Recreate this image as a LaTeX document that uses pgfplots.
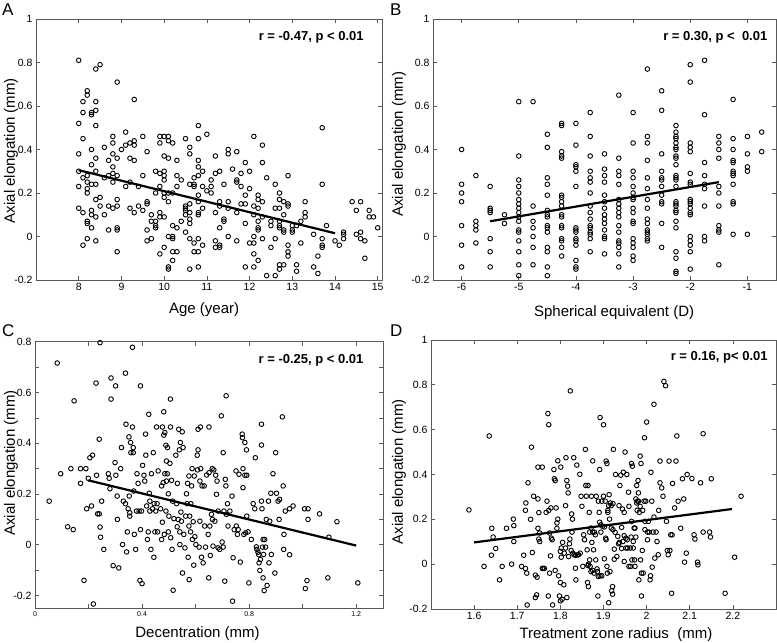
\documentclass[border=0pt]{standalone}
\usepackage{fontspec}
\setmainfont{Liberation Sans}
\usepackage{pgfplots}
\pgfplotsset{compat=1.18}
\pgfplotsset{
  panel/.style={
    scale only axis,
    axis line style={black!65, line width=0.8pt},
    tick style={black!65, line width=0.7pt},
    tick align=inside,
    tick pos=both,
    major tick length=4pt,
    minor tick length=4pt,
    tick label style={font=\fontsize{10.5}{12}\selectfont},
    label style={font=\fontsize{15}{18}\selectfont},
    ylabel={Axial elongation (mm)},
  },
  pts/.style={only marks, mark=o, mark size=2.3pt, mark options={line width=0.9pt, black}},
  fit/.style={black, line width=2.2pt, no marks},
}
\tikzset{ann/.style={anchor=east, font=\bfseries\fontsize{13}{15}\selectfont}}
\begin{document}
\begin{tikzpicture}
\useasboundingbox (0,0) rectangle (777pt,643pt);
% ---------------- A ----------------
\begin{axis}[panel, at={(36pt,363pt)}, anchor=south west, width=346pt, height=261pt,
  xmin=7, xmax=15.1, ymin=-0.2, ymax=1,
  xtick={8,9,10,11,12,13,14,15}, xticklabels={8,9,10,11,12,13,14,15},
  ytick={-0.2,0,0.2,0.4,0.6,0.8,1},
  yticklabels={-0.2,0,0.2,0.4,0.6,0.8,1},
  xlabel={Age (year)},
  xlabel style={at={(axis description cs:0.486,0)}, anchor=base, yshift=-34pt},
  ylabel style={at={(axis description cs:0,0.496)}, anchor=center, yshift=25pt}]
\addplot[pts] table[row sep=\\] {x y\\
8.0 0.81\\ 8.0 0.52\\ 8.0 0.38\\ 8.0 0.30\\ 8.0 0.23\\ 8.0 0.13\\
8.1 0.62\\ 8.1 0.57\\ 8.1 0.45\\ 8.1 0.27\\ 8.1 0.11\\ 8.1 -0.04\\
8.2 0.67\\ 8.2 0.65\\ 8.2 0.28\\ 8.2 0.25\\ 8.2 0.22\\ 8.2 0.20\\ 8.2 0.07\\ 8.2 0.06\\ 8.2 -0.01\\
8.3 0.57\\ 8.3 0.56\\ 8.3 0.40\\ 8.3 0.33\\ 8.3 0.24\\ 8.3 0.12\\ 8.3 0.10\\ 8.3 0.04\\
8.4 0.77\\ 8.4 0.62\\ 8.4 0.58\\ 8.4 0.51\\ 8.4 0.36\\ 8.4 0.30\\ 8.4 0.24\\ 8.4 0.17\\ 8.4 0.09\\ 8.4 -0.02\\
8.5 0.79\\ 8.5 0.18\\ 8.5 0.14\\
8.6 0.41\\ 8.6 0.27\\ 8.6 0.10\\
8.7 0.35\\ 8.7 0.28\\ 8.7 0.14\\ 8.7 0.03\\
8.8 0.46\\ 8.8 0.43\\ 8.8 0.38\\ 8.8 0.32\\ 8.8 0.29\\ 8.8 0.25\\ 8.8 0.13\\
8.9 0.71\\ 8.9 0.36\\ 8.9 0.28\\ 8.9 0.17\\ 8.9 0.14\\ 8.9 0.04\\ 8.9 0.03\\ 8.9 -0.07\\
9.0 0.40\\
9.1 0.48\\ 9.1 0.42\\ 9.1 0.23\\
9.2 0.43\\ 9.2 0.36\\ 9.2 0.25\\ 9.2 0.13\\
9.3 0.63\\ 9.3 0.44\\ 9.3 0.42\\ 9.3 0.35\\ 9.3 0.11\\
9.4 0.23\\ 9.4 0.14\\
9.5 0.46\\ 9.5 0.28\\ 9.5 0.12\\
9.6 0.39\\ 9.6 0.16\\ 9.6 0.15\\ 9.6 0.03\\ 9.6 -0.02\\
9.7 0.10\\ 9.7 0.07\\ 9.7 -0.01\\
9.8 0.30\\ 9.8 0.20\\ 9.8 0.07\\ 9.8 0.05\\ 9.8 0.04\\
9.9 0.46\\ 9.9 0.43\\ 9.9 0.29\\ 9.9 0.23\\ 9.9 0.11\\ 9.9 0.09\\ 9.9 -0.08\\
10.0 0.46\\ 10.0 0.37\\ 10.0 0.30\\ 10.0 0.28\\ 10.0 0.26\\ 10.0 0.20\\ 10.0 0.18\\ 10.0 0.09\\ 10.0 -0.05\\
10.1 0.46\\ 10.1 0.44\\ 10.1 0.36\\ 10.1 0.20\\ 10.1 0.16\\ 10.1 0.0\\ 10.1 -0.14\\ 10.1 -0.15\\
10.2 0.43\\ 10.2 0.20\\ 10.2 0.05\\ 10.2 0.0\\ 10.2 -0.01\\ 10.2 -0.07\\ 10.2 -0.11\\
10.3 0.35\\ 10.3 0.28\\ 10.3 0.23\\ 10.3 0.04\\ 10.3 -0.07\\
10.4 0.26\\ 10.4 0.07\\
10.5 0.45\\ 10.5 0.14\\ 10.5 0.13\\ 10.5 0.12\\ 10.5 0.10\\ 10.5 0.02\\
10.6 0.41\\ 10.6 0.38\\ 10.6 0.24\\ 10.6 0.15\\ 10.6 0.11\\ 10.6 0.08\\ 10.6 0.06\\ 10.6 -0.01\\ 10.6 -0.15\\
10.7 0.27\\ 10.7 0.24\\ 10.7 0.23\\ 10.7 -0.03\\ 10.7 -0.07\\
10.8 0.51\\ 10.8 0.45\\ 10.8 0.35\\ 10.8 0.32\\ 10.8 0.28\\ 10.8 0.19\\ 10.8 0.16\\ 10.8 0.11\\ 10.8 0.10\\ 10.8 -0.01\\ 10.8 -0.07\\ 10.8 -0.14\\
10.9 0.30\\ 10.9 0.23\\ 10.9 0.13\\ 10.9 -0.04\\
11.0 0.47\\ 11.0 0.21\\
11.1 0.26\\ 11.1 0.23\\ 11.1 0.20\\
11.2 0.37\\ 11.2 0.29\\ 11.2 0.11\\ 11.2 -0.02\\ 11.2 -0.05\\
11.3 0.30\\ 11.3 0.16\\ 11.3 0.14\\ 11.3 0.04\\ 11.3 -0.04\\ 11.3 -0.05\\
11.4 0.24\\ 11.4 0.08\\ 11.4 0.07\\
11.5 0.40\\ 11.5 0.38\\ 11.5 0.16\\ 11.5 0.13\\ 11.5 0.0\\
11.6 0.31\\
11.7 0.39\\ 11.7 0.26\\ 11.7 0.25\\ 11.7 0.11\\ 11.7 -0.02\\
11.8 0.29\\ 11.8 0.23\\ 11.8 0.15\\
11.9 0.34\\ 11.9 0.19\\ 11.9 0.15\\ 11.9 0.06\\ 11.9 -0.14\\
12.0 0.30\\ 12.0 0.22\\ 12.0 -0.03\\
12.1 0.46\\ 12.1 0.14\\ 12.1 0.10\\ 12.1 0.0\\ 12.1 -0.03\\ 12.1 -0.08\\ 12.1 -0.14\\
12.2 0.19\\ 12.2 0.17\\ 12.2 0.13\\ 12.2 0.07\\ 12.2 0.04\\ 12.2 0.03\\ 12.2 -0.11\\
12.3 0.42\\ 12.3 0.34\\ 12.3 0.16\\ 12.3 0.09\\ 12.3 -0.01\\
12.4 0.27\\ 12.4 -0.18\\
12.5 0.07\\ 12.5 0.05\\ 12.5 -0.05\\
12.6 0.24\\ 12.6 0.13\\ 12.6 -0.01\\ 12.6 -0.18\\
12.7 0.20\\ 12.7 0.17\\ 12.7 0.13\\ 12.7 0.07\\ 12.7 0.05\\ 12.7 0.04\\ 12.7 -0.13\\ 12.7 -0.15\\
12.8 0.16\\ 12.8 0.10\\ 12.8 0.03\\ 12.8 0.02\\ 12.8 -0.13\\
12.9 0.28\\ 12.9 0.15\\ 12.9 0.14\\ 12.9 -0.04\\ 12.9 -0.07\\ 12.9 -0.09\\
13.0 0.05\\ 13.0 0.03\\ 13.0 0.02\\
13.1 0.05\\ 13.1 -0.13\\ 13.1 -0.16\\
13.2 0.07\\ 13.2 -0.03\\
13.3 0.16\\ 13.3 0.11\\ 13.3 0.09\\
13.5 0.01\\ 13.5 -0.14\\
13.6 -0.09\\ 13.6 -0.17\\
13.7 0.50\\ 13.7 0.24\\ 13.7 -0.01\\ 13.7 -0.04\\ 13.7 -0.05\\
13.8 0.05\\
14.0 -0.02\\ 14.1 -0.04\\
14.2 0.02\\ 14.2 0.01\\ 14.2 -0.01\\
14.4 0.16\\ 14.5 0.12\\ 14.5 0.01\\
14.6 0.16\\ 14.6 0.02\\ 14.6 -0.01\\
14.7 -0.02\\ 14.7 -0.10\\
14.8 0.12\\ 14.8 0.09\\ 14.9 0.09\\ 15.0 0.04\\
};
\addplot[fit] coordinates {(8,0.305) (14,0.015)};
\node[ann] at (rel axis cs:0.957,0.931) {r = -0.47, p < 0.01};
\end{axis}
% ---------------- B ----------------
\begin{axis}[panel, at={(433pt,363pt)}, anchor=south west, width=343pt, height=261pt,
  xmin=-6.5, xmax=-0.5, ymin=-0.2, ymax=1,
  xtick={-6,-5,-4,-3,-2,-1}, xticklabels={-6,-5,-4,-3,-2,-1},
  ytick={-0.2,0,0.2,0.4,0.6,0.8,1},
  yticklabels={-0.2,0,0.2,0.4,0.6,0.8,1},
  xlabel={Spherical equivalent (D)},
  xlabel style={at={(axis description cs:0.528,0)}, anchor=base, yshift=-37pt},
  ylabel style={at={(axis description cs:0,0.521)}, anchor=center, yshift=34pt}]
\addplot[pts] table[row sep=\\] {x y\\
-6 0.40\\ -6 0.24\\ -6 0.20\\ -6 0.16\\ -6 0.05\\ -6 -0.04\\ -6 -0.14\\
-5.75 0.28\\ -5.75 0.07\\ -5.75 0.05\\ -5.75 0.03\\ -5.75 -0.03\\
-5.5 0.23\\ -5.5 0.13\\ -5.5 0.12\\ -5.5 0.11\\ -5.5 -0.01\\ -5.5 -0.07\\ -5.5 -0.14\\
-5.25 0.10\\ -5.25 0.06\\
-5 0.62\\ -5 0.37\\ -5 0.26\\ -5 0.23\\ -5 0.20\\ -5 0.17\\ -5 0.15\\ -5 0.13\\ -5 0.11\\ -5 0.09\\ -5 0.07\\ -5 0.03\\ -5 0.02\\ -5 -0.02\\ -5 -0.07\\ -5 -0.13\\ -5 -0.18\\
-4.75 0.62\\ -4.75 0.14\\ -4.75 0.07\\ -4.75 0.04\\ -4.75 0.0\\ -4.75 -0.05\\ -4.75 -0.13\\
-4.5 0.47\\ -4.5 0.41\\ -4.5 0.27\\ -4.5 0.24\\ -4.5 0.19\\ -4.5 0.12\\ -4.5 0.10\\ -4.5 0.09\\ -4.5 0.05\\ -4.5 0.04\\ -4.5 0.02\\ -4.5 -0.05\\ -4.5 -0.07\\ -4.5 -0.14\\ -4.5 -0.18\\
-4.25 0.52\\ -4.25 0.51\\ -4.25 0.39\\ -4.25 0.37\\ -4.25 0.36\\ -4.25 0.19\\ -4.25 0.18\\ -4.25 0.16\\ -4.25 0.14\\ -4.25 0.10\\ -4.25 0.09\\ -4.25 0.05\\ -4.25 0.04\\ -4.25 -0.01\\ -4.25 -0.02\\ -4.25 -0.05\\ -4.25 -0.09\\
-4 0.52\\ -4 0.42\\ -4 0.33\\ -4 0.32\\ -4 0.30\\ -4 0.23\\ -4 0.04\\ -4 0.03\\ -4 0.02\\ -4 -0.01\\ -4 -0.02\\ -4 -0.04\\ -4 -0.11\\ -4 -0.14\\ -4 -0.15\\
-3.75 0.57\\ -3.75 0.46\\ -3.75 0.37\\ -3.75 0.30\\ -3.75 0.27\\ -3.75 0.25\\ -3.75 0.20\\ -3.75 0.14\\ -3.75 0.11\\ -3.75 0.08\\ -3.75 0.05\\ -3.75 0.04\\ -3.75 0.02\\ -3.75 0.01\\ -3.75 -0.01\\ -3.75 -0.07\\
-3.5 0.38\\ -3.5 0.31\\ -3.5 0.28\\ -3.5 0.25\\ -3.5 0.19\\ -3.5 0.16\\ -3.5 0.13\\ -3.5 0.10\\ -3.5 0.08\\ -3.5 0.06\\ -3.5 0.03\\ -3.5 0.0\\ -3.5 -0.01\\ -3.5 -0.08\\
-3.25 0.65\\ -3.25 0.36\\ -3.25 0.30\\ -3.25 0.28\\ -3.25 0.24\\ -3.25 0.17\\ -3.25 0.15\\ -3.25 0.13\\ -3.25 0.11\\ -3.25 0.09\\ -3.25 0.05\\ -3.25 0.02\\ -3.25 -0.02\\ -3.25 -0.03\\ -3.25 -0.05\\ -3.25 -0.08\\ -3.25 -0.14\\
-3 0.57\\ -3 0.43\\ -3 0.30\\ -3 0.27\\ -3 0.23\\ -3 0.20\\ -3 0.18\\ -3 0.17\\ -3 0.13\\ -3 0.11\\ -3 0.07\\ -3 0.06\\ -3 -0.01\\ -3 -0.03\\ -3 -0.05\\ -3 -0.09\\ -3 -0.11\\
-2.75 0.77\\ -2.75 0.46\\ -2.75 0.43\\ -2.75 0.35\\ -2.75 0.27\\ -2.75 0.22\\ -2.75 0.17\\ -2.75 0.13\\ -2.75 0.08\\ -2.75 0.06\\ -2.75 0.03\\ -2.75 0.02\\ -2.75 0.01\\ -2.75 -0.01\\ -2.75 -0.02\\
-2.5 0.67\\ -2.5 0.58\\ -2.5 0.38\\ -2.5 0.30\\ -2.5 0.27\\ -2.5 0.26\\ -2.5 0.23\\ -2.5 0.19\\ -2.5 0.16\\ -2.5 0.15\\ -2.5 0.06\\ -2.5 -0.05\\
-2.25 0.51\\ -2.25 0.48\\ -2.25 0.46\\ -2.25 0.45\\ -2.25 0.43\\ -2.25 0.41\\ -2.25 0.40\\ -2.25 0.37\\ -2.25 0.36\\ -2.25 0.33\\ -2.25 0.28\\ -2.25 0.27\\ -2.25 0.26\\ -2.25 0.23\\ -2.25 0.16\\ -2.25 0.15\\ -2.25 0.14\\ -2.25 0.12\\ -2.25 0.11\\ -2.25 0.07\\ -2.25 0.04\\ -2.25 -0.07\\ -2.25 -0.10\\ -2.25 -0.16\\ -2.25 -0.17\\
-2 0.79\\ -2 0.71\\ -2 0.43\\ -2 0.41\\ -2 0.39\\ -2 0.29\\ -2 0.25\\ -2 0.24\\ -2 0.17\\ -2 0.16\\ -2 0.15\\ -2 0.13\\ -2 0.11\\ -2 0.10\\ -2 0.0\\ -2 -0.02\\ -2 -0.04\\ -2 -0.07\\ -2 -0.15\\
-1.75 0.81\\ -1.75 0.56\\ -1.75 0.34\\ -1.75 0.28\\ -1.75 0.24\\ -1.75 0.22\\ -1.75 0.14\\ -1.75 0.0\\ -1.75 -0.02\\
-1.5 0.46\\ -1.5 0.43\\ -1.5 0.40\\ -1.5 0.36\\ -1.5 0.23\\ -1.5 0.20\\ -1.5 0.14\\ -1.5 0.05\\ -1.5 0.03\\ -1.5 0.02\\ -1.5 -0.13\\
-1.25 0.63\\ -1.25 0.45\\ -1.25 0.40\\ -1.25 0.35\\ -1.25 0.34\\ -1.25 0.30\\ -1.25 0.29\\ -1.25 0.28\\ -1.25 0.24\\ -1.25 0.16\\ -1.25 0.15\\ -1.25 0.01\\
-1 0.46\\ -1 0.38\\ -1 0.32\\ -1 0.30\\ -1 0.01\\
-0.75 0.48\\ -0.75 0.39\\
};
\addplot[fit] coordinates {(-5.5,0.07) (-1.5,0.25)};
\node[ann] at (rel axis cs:0.985,0.931) {r = 0.30, p <\ \ 0.01};
\end{axis}
% ---------------- C ----------------
\begin{axis}[panel, at={(35pt,34.7pt)}, anchor=south west, width=348pt, height=266.6pt,
  xmin=0, xmax=1.3, ymin=-0.25, ymax=0.8,
  xtick={0,0.4,0.8,1.2}, xticklabels={0,0.4,0.8,1.2},
  minor xtick={0.2,0.6,1.0},
  xticklabel style={font=\fontsize{7}{8}\selectfont},
  ytick={-0.2,0,0.2,0.4,0.6,0.8}, yticklabels={-0.2,0,0.2,0.4,0.6,0.8},
  minor ytick={-0.1,0.1,0.3,0.5,0.7},
  xlabel={Decentration (mm)},
  xlabel style={at={(axis description cs:0.467,0)}, anchor=base, yshift=-29pt},
  ylabel style={at={(axis description cs:0,0.545)}, anchor=center, yshift=24pt}]
\addplot[pts] table[row sep=\\] {x y\\
0.053 0.172\\ 0.083 0.716\\ 0.096 0.28\\ 0.122 0.071\\ 0.134 0.30\\ 0.143 0.06\\ 0.146 0.567\\ 0.170 0.242\\ 0.170 0.30\\ 0.183 -0.14\\
0.190 0.30\\ 0.193 0.142\\ 0.199 0.262\\ 0.205 0.343\\ 0.211 0.153\\ 0.215 0.353\\ 0.218 -0.233\\ 0.228 0.637\\ 0.230 0.274\\ 0.234 0.122\\
0.240 0.416\\ 0.240 0.122\\ 0.243 0.796\\ 0.243 0.07\\ 0.245 0.03\\ 0.249 0.172\\ 0.257 -0.018\\ 0.274 0.28\\ 0.277 0.262\\ 0.280 0.221\\
0.284 0.657\\ 0.284 0.574\\ 0.292 -0.082\\ 0.299 0.324\\ 0.301 0.626\\ 0.302 0.274\\ 0.307 0.192\\ 0.308 0.10\\ 0.313 -0.091\\ 0.320 0.30\\
0.323 0.383\\ 0.327 0.001\\ 0.330 0.172\\ 0.338 0.676\\ 0.340 0.475\\ 0.338 0.162\\ 0.342 -0.028\\ 0.345 0.051\\ 0.348 0.142\\ 0.351 0.425\\
0.352 0.192\\ 0.354 0.113\\ 0.354 0.126\\ 0.357 0.403\\ 0.358 0.363\\ 0.364 0.778\\ 0.364 0.464\\ 0.367 0.383\\ 0.367 0.363\\ 0.369 0.212\\
0.371 0.041\\ 0.376 -0.018\\ 0.379 0.133\\ 0.381 0.28\\ 0.385 0.242\\ 0.389 0.133\\ 0.392 -0.14\\ 0.394 0.626\\ 0.394 0.06\\ 0.398 0.133\\
0.400 -0.153\\ 0.402 0.313\\ 0.407 0.274\\ 0.410 0.251\\ 0.413 0.436\\ 0.414 0.353\\ 0.417 0.153\\ 0.420 0.021\\ 0.423 0.051\\ 0.425 0.514\\
0.427 0.203\\ 0.429 0.172\\ 0.429 0.133\\ 0.433 -0.018\\ 0.435 0.28\\ 0.439 0.142\\ 0.442 0.363\\ 0.444 -0.049\\ 0.445 0.162\\ 0.448 0.051\\
0.451 0.133\\ 0.454 0.464\\ 0.456 0.162\\ 0.458 0.051\\ 0.460 0.291\\ 0.469 0.142\\ 0.473 0.232\\ 0.473 0.021\\ 0.476 0.464\\ 0.476 0.089\\
0.479 0.245\\ 0.481 0.524\\ 0.481 0.432\\ 0.483 0.041\\ 0.485 0.442\\ 0.485 0.28\\ 0.489 0.392\\ 0.489 0.133\\ 0.491 0.33\\ 0.491 0.251\\
0.494 0.28\\ 0.495 0.383\\ 0.498 0.051\\ 0.498 0.201\\ 0.500 0.113\\ 0.504 0.321\\ 0.506 0.464\\ 0.506 0.574\\ 0.507 0.028\\ 0.510 0.254\\
0.512 -0.018\\ 0.514 0.172\\ 0.516 -0.179\\ 0.519 0.103\\ 0.526 0.353\\ 0.529 0.162\\ 0.531 0.071\\ 0.532 0.242\\ 0.535 0.100\\ 0.537 0.455\\
0.539 0.374\\ 0.541 0.001\\ 0.541 0.051\\ 0.543 0.403\\ 0.545 0.129\\ 0.547 0.093\\ 0.550 0.445\\ 0.551 -0.111\\ 0.553 0.383\\ 0.556 0.041\\
0.560 -0.012\\ 0.563 0.113\\ 0.566 0.201\\ 0.568 0.162\\ 0.570 0.242\\ 0.572 -0.049\\ 0.575 0.074\\ 0.575 0.271\\ 0.576 -0.137\\ 0.578 0.113\\
0.581 0.051\\ 0.582 0.162\\ 0.585 0.232\\ 0.587 0.30\\ 0.588 0.021\\ 0.591 0.091\\ 0.593 -0.08\\ 0.595 0.271\\ 0.597 0.032\\ 0.601 0.001\\
0.606 0.353\\ 0.607 0.295\\ 0.609 0.455\\ 0.609 0.374\\ 0.613 -0.009\\ 0.616 0.093\\ 0.616 0.251\\ 0.618 0.464\\ 0.619 0.30\\ 0.622 -0.049\\
0.624 0.232\\ 0.628 -0.071\\ 0.632 0.232\\ 0.634 0.074\\ 0.637 -0.009\\ 0.641 0.275\\ 0.647 0.041\\ 0.649 -0.13\\ 0.650 0.464\\ 0.650 0.284\\
0.653 0.074\\ 0.655 -0.042\\ 0.659 0.12\\ 0.662 0.30\\ 0.663 0.10\\ 0.665 -0.005\\ 0.668 0.295\\ 0.672 0.093\\ 0.675 0.274\\ 0.678 0.199\\
0.680 0.251\\ 0.684 0.133\\ 0.684 -0.012\\ 0.690 -0.018\\ 0.696 0.508\\ 0.699 0.011\\ 0.703 0.363\\ 0.703 -0.009\\ 0.706 0.133\\ 0.709 -0.143\\
0.711 0.258\\ 0.713 0.232\\ 0.714 0.587\\ 0.715 0.12\\ 0.719 0.162\\ 0.721 0.074\\ 0.728 0.133\\ 0.736 0.192\\ 0.738 -0.222\\ 0.740 -0.051\\
0.744 0.06\\ 0.751 0.291\\ 0.752 0.074\\ 0.756 0.041\\ 0.759 0.06\\ 0.762 0.278\\ 0.767 -0.068\\ 0.774 0.436\\ 0.775 0.422\\ 0.777 0.30\\
0.777 0.225\\ 0.780 0.041\\ 0.784 0.403\\ 0.784 0.274\\ 0.787 0.047\\ 0.790 0.374\\ 0.791 0.113\\ 0.791 0.274\\ 0.796 0.051\\ 0.799 -0.15\\
0.808 0.021\\ 0.815 0.162\\ 0.821 0.142\\ 0.823 0.343\\ 0.827 -0.008\\ 0.829 -0.018\\ 0.833 -0.029\\ 0.836 -0.039\\ 0.837 -0.071\\ 0.840 -0.101\\
0.842 -0.058\\ 0.846 0.172\\ 0.846 0.475\\ 0.846 0.393\\ 0.848 0.142\\ 0.850 -0.009\\ 0.852 0.021\\ 0.852 -0.13\\ 0.854 -0.038\\ 0.856 -0.180\\
0.858 0.021\\ 0.861 -0.009\\ 0.864 0.10\\ 0.867 -0.16\\ 0.872 0.172\\ 0.874 -0.071\\ 0.877 0.093\\ 0.881 0.203\\ 0.883 -0.038\\ 0.889 0.28\\
0.896 -0.111\\ 0.899 0.363\\ 0.902 0.203\\ 0.908 0.172\\ 0.912 0.10\\ 0.914 0.179\\ 0.924 0.504\\ 0.927 0.232\\ 0.929 -0.018\\ 0.930 0.041\\
0.935 0.133\\ 0.951 0.142\\ 0.951 -0.039\\ 0.964 0.153\\ 1.007 0.142\\ 1.010 -0.172\\ 1.016 -0.141\\ 1.020 0.142\\ 1.020 0.10\\ 1.063 0.122\\
1.094 -0.13\\ 1.098 0.03\\ 1.128 0.091\\ 1.206 -0.15\\
};
\addplot[fit] coordinates {(0.199,0.254) (1.2,-0.003)};
\node[ann] at (rel axis cs:0.954,0.931) {r = -0.25, p < 0.01};
\end{axis}
% ---------------- D ----------------
\begin{axis}[panel, at={(431pt,34pt)}, anchor=south west, width=345pt, height=269pt,
  xmin=1.5, xmax=2.3, ymin=-0.2, ymax=1,
  xtick={1.6,1.7,1.8,1.9,2.0,2.1,2.2}, xticklabels={1.6,1.7,1.8,1.9,2,2.1,2.2},
  ytick={-0.2,0,0.2,0.4,0.6,0.8,1},
  yticklabels={-0.2,0,0.2,0.4,0.6,0.8,1},
  xlabel={Treatment zone radius\ \ (mm)},
  xlabel style={at={(axis description cs:0.536,0)}, anchor=base, yshift=-30pt},
  ylabel style={at={(axis description cs:0,0.51)}, anchor=center, yshift=32pt}]
\addplot[pts] table[row sep=\\] {x y\\
1.588 0.242\\ 1.635 0.572\\ 1.641 0.16\\ 1.644 0.121\\ 1.650 0.07\\ 1.640 0.04\\ 1.623 -0.01\\ 1.659 -0.07\\ 1.665 -0.01\\ 1.675 0.16\\
1.687 0.0\\ 1.691 0.201\\ 1.692 0.172\\ 1.692 0.101\\ 1.715 0.04\\ 1.710 -0.01\\ 1.719 0.24\\ 1.720 0.273\\ 1.719 -0.019\\ 1.723 -0.182\\
1.725 0.363\\ 1.722 -0.04\\ 1.731 0.20\\ 1.733 0.522\\ 1.735 0.052\\ 1.738 0.303\\ 1.742 -0.049\\ 1.742 -0.149\\ 1.745 -0.137\\ 1.748 0.291\\
1.748 0.16\\ 1.746 -0.058\\ 1.748 0.433\\ 1.750 0.23\\ 1.752 0.139\\ 1.750 0.112\\ 1.752 0.101\\ 1.758 0.433\\ 1.758 -0.019\\ 1.760 -0.019\\
1.763 -0.019\\ 1.767 0.231\\ 1.769 0.281\\ 1.771 0.672\\ 1.773 0.622\\ 1.772 -0.142\\ 1.773 0.24\\ 1.775 0.139\\ 1.777 0.037\\ 1.775 -0.04\\
1.778 0.251\\ 1.779 0.116\\ 1.781 0.109\\ 1.782 -0.182\\ 1.785 0.422\\ 1.786 0.381\\ 1.788 0.373\\ 1.788 -0.028\\ 1.790 0.251\\ 1.792 0.184\\
1.792 0.16\\ 1.794 0.461\\ 1.794 0.201\\ 1.796 -0.052\\ 1.798 -0.142\\ 1.800 -0.082\\ 1.800 -0.164\\ 1.801 0.433\\ 1.800 0.057\\ 1.802 0.072\\
1.802 0.031\\ 1.804 -0.157\\ 1.805 0.097\\ 1.808 -0.092\\ 1.809 0.049\\ 1.812 0.072\\ 1.812 0.261\\ 1.813 0.475\\ 1.815 0.373\\ 1.815 -0.149\\
1.817 0.348\\ 1.818 0.318\\ 1.819 0.034\\ 1.821 0.091\\ 1.822 0.112\\ 1.823 0.773\\ 1.825 0.061\\ 1.826 0.224\\ 1.827 0.143\\ 1.828 0.201\\
1.829 0.049\\ 1.831 0.475\\ 1.832 0.042\\ 1.835 -0.018\\ 1.835 0.039\\ 1.836 -0.07\\ 1.838 0.442\\ 1.840 0.042\\ 1.842 0.042\\ 1.845 0.401\\
1.846 0.049\\ 1.848 0.303\\ 1.850 0.258\\ 1.852 -0.01\\ 1.854 0.131\\ 1.856 0.109\\ 1.858 0.512\\ 1.859 0.351\\ 1.860 0.303\\ 1.862 0.064\\
1.863 -0.082\\ 1.864 -0.006\\ 1.864 0.351\\ 1.865 0.0\\ 1.865 -0.1\\ 1.867 0.231\\ 1.868 0.143\\ 1.868 0.019\\ 1.869 -0.01\\ 1.871 -0.033\\
1.871 0.161\\ 1.872 0.303\\ 1.873 0.097\\ 1.875 0.461\\ 1.875 0.143\\ 1.875 -0.028\\ 1.877 0.064\\ 1.878 -0.04\\ 1.879 0.143\\ 1.881 0.131\\
1.882 0.019\\ 1.883 0.303\\ 1.885 -0.021\\ 1.886 -0.033\\ 1.887 -0.142\\ 1.888 0.281\\ 1.888 -0.055\\ 1.890 0.231\\ 1.891 0.187\\ 1.891 0.422\\
1.892 0.654\\ 1.892 -0.052\\ 1.894 0.176\\ 1.894 0.143\\ 1.896 -0.052\\ 1.896 0.281\\ 1.898 0.169\\ 1.900 0.622\\ 1.900 0.303\\ 1.902 0.024\\
1.902 0.166\\ 1.904 0.281\\ 1.905 0.116\\ 1.906 0.46\\ 1.906 0.109\\ 1.908 0.449\\ 1.908 -0.01\\ 1.909 -0.04\\ 1.910 0.231\\ 1.910 0.24\\
1.912 0.261\\ 1.912 -0.172\\ 1.913 0.31\\ 1.914 0.201\\ 1.915 -0.033\\ 1.916 0.273\\ 1.918 0.261\\ 1.918 0.161\\ 1.919 -0.119\\ 1.921 -0.1\\
1.921 -0.134\\ 1.922 0.27\\ 1.922 0.154\\ 1.923 0.512\\ 1.925 0.022\\ 1.925 0.067\\ 1.927 0.142\\ 1.928 0.40\\ 1.931 0.034\\ 1.933 0.124\\
1.935 0.091\\ 1.936 0.261\\ 1.937 0.097\\ 1.938 0.351\\ 1.940 0.397\\ 1.942 0.07\\ 1.942 0.164\\ 1.944 0.246\\ 1.945 0.101\\ 1.946 0.41\\
1.948 0.231\\ 1.948 0.127\\ 1.948 0.012\\ 1.950 0.50\\ 1.952 0.072\\ 1.952 0.116\\ 1.954 0.40\\ 1.955 0.109\\ 1.956 0.072\\ 1.958 0.321\\
1.959 0.258\\ 1.959 -0.01\\ 1.962 0.072\\ 1.963 -0.01\\ 1.964 0.121\\ 1.965 0.449\\ 1.965 0.191\\ 1.966 0.019\\ 1.967 0.437\\ 1.969 0.101\\
1.969 0.072\\ 1.971 0.161\\ 1.972 0.019\\ 1.973 -0.01\\ 1.973 0.161\\ 1.975 0.291\\ 1.975 0.121\\ 1.977 0.273\\ 1.977 0.351\\ 1.978 0.24\\
1.979 0.281\\ 1.980 0.373\\ 1.981 0.318\\ 1.981 0.281\\ 1.982 -0.07\\ 1.983 0.231\\ 1.985 0.482\\ 1.985 0.258\\ 1.986 0.019\\ 1.987 0.449\\
1.988 -0.04\\ 1.988 -0.142\\ 1.990 0.061\\ 1.991 0.24\\ 1.992 -0.04\\ 1.994 0.281\\ 1.995 0.564\\ 1.996 0.191\\ 1.996 0.154\\ 1.998 0.281\\
2.000 0.634\\ 2.002 0.143\\ 2.002 0.109\\ 2.004 0.191\\ 2.006 0.143\\ 2.008 -0.07\\ 2.009 -0.052\\ 2.010 0.41\\ 2.012 0.281\\ 2.013 -0.013\\
2.015 0.143\\ 2.017 0.21\\ 2.017 0.713\\ 2.019 0.027\\ 2.022 0.143\\ 2.024 0.101\\ 2.027 0.042\\ 2.028 0.24\\ 2.031 0.363\\ 2.031 0.46\\
2.035 0.34\\ 2.038 0.303\\ 2.040 0.815\\ 2.044 0.796\\ 2.046 0.191\\ 2.048 0.061\\ 2.050 0.042\\ 2.052 0.46\\ 2.054 0.061\\ 2.056 0.131\\
2.058 -0.13\\ 2.059 0.131\\ 2.060 0.36\\ 2.065 0.251\\ 2.068 0.46\\ 2.070 0.572\\ 2.073 0.281\\ 2.079 0.16\\ 2.083 0.381\\ 2.086 0.291\\
2.088 0.009\\ 2.092 0.049\\ 2.094 0.40\\ 2.105 0.382\\ 2.110 0.131\\ 2.112 0.112\\ 2.118 0.009\\ 2.119 -0.003\\ 2.125 0.363\\ 2.131 0.582\\
2.131 0.143\\ 2.146 0.143\\ 2.148 0.121\\ 2.150 0.381\\ 2.182 -0.13\\ 2.204 0.031\\ 2.219 0.303\\
};
\addplot[fit] coordinates {(1.6,0.097) (2.198,0.246)};
\node[ann] at (rel axis cs:0.986,0.937) {r = 0.16, p< 0.01};
\end{axis}
% panel letters
\node[anchor=west, inner sep=0pt, font=\fontsize{17}{20}\selectfont] at (2pt,633pt) {A};
\node[anchor=west, inner sep=0pt, font=\fontsize{17}{20}\selectfont] at (390pt,633pt) {B};
\node[anchor=west, inner sep=0pt, font=\fontsize{17}{20}\selectfont] at (2pt,312pt) {C};
\node[anchor=west, inner sep=0pt, font=\fontsize{17}{20}\selectfont] at (390pt,312pt) {D};
\end{tikzpicture}
\end{document}
